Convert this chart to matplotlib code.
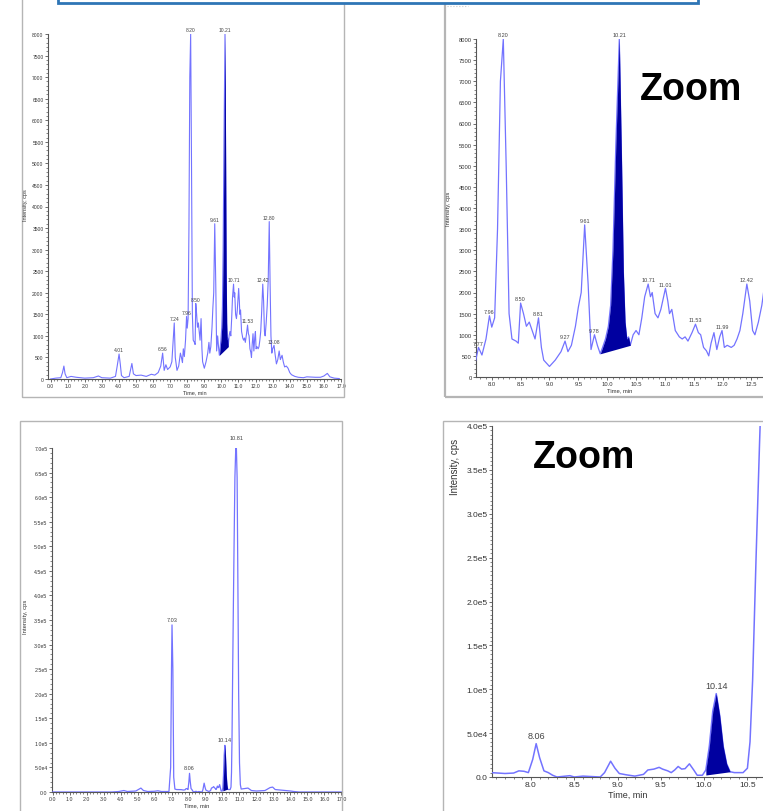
import numpy as np
import matplotlib.pyplot as plt
from matplotlib.patches import Rectangle
from matplotlib.ticker import MultipleLocator, FuncFormatter

W, H = 763, 812

# TIC of the sample (time in min, intensity in cps)
tic_time = [0.0, 0.3, 0.6, 0.7, 0.78, 0.85, 0.95, 1.2, 1.5, 2.0, 2.5, 2.8, 3.0, 3.5, 3.8, 3.9, 4.01,
            4.08, 4.15, 4.3, 4.6, 4.76, 4.85, 5.0, 5.3, 5.6, 5.9, 6.1, 6.3, 6.45, 6.56, 6.65, 6.75,
            6.85, 7.0, 7.1, 7.18, 7.24, 7.3, 7.4, 7.5, 7.6, 7.66, 7.72, 7.77, 7.83, 7.9, 7.96, 8.0,
            8.05, 8.1, 8.15, 8.2, 8.25, 8.3, 8.35, 8.42, 8.46, 8.5, 8.55, 8.6, 8.65, 8.7, 8.75, 8.81,
            8.86, 8.9, 9.0, 9.1, 9.2, 9.27, 9.32, 9.38, 9.45, 9.5, 9.55, 9.61, 9.67, 9.72, 9.78, 9.83,
            9.88, 9.92, 9.97, 10.02, 10.06, 10.1, 10.15, 10.21, 10.25, 10.28, 10.31, 10.34, 10.37,
            10.40, 10.45, 10.5, 10.55, 10.6, 10.65, 10.71, 10.75, 10.78, 10.83, 10.88, 10.93, 11.01,
            11.05, 11.08, 11.12, 11.18, 11.25, 11.3, 11.35, 11.4, 11.47, 11.53, 11.58, 11.62, 11.67,
            11.72, 11.76, 11.8, 11.85, 11.9, 11.95, 11.99, 12.03, 12.08, 12.15, 12.2, 12.25, 12.3,
            12.35, 12.42, 12.47, 12.52, 12.56, 12.62, 12.68, 12.74, 12.80, 12.85, 12.9, 12.95, 13.0,
            13.08, 13.15, 13.22, 13.3, 13.38, 13.45, 13.55, 13.62, 13.7, 13.8, 13.9, 14.0, 14.1,
            14.3, 14.5, 14.8, 15.0, 15.5, 15.8, 16.0, 16.2, 16.35, 16.6, 16.9]
tic_int = [0, 20, 30, 150, 300, 120, 30, 60, 40, 20, 30, 70, 30, 20, 60, 300, 580,
           350, 80, 30, 60, 360, 120, 80, 90, 60, 110, 90, 150, 300, 600, 200, 330,
           220, 280, 400, 900, 1300, 500, 200, 300, 600, 500, 380, 700, 520, 900, 1450, 1180,
           1400, 3500, 7000, 8000, 5000, 1500, 900, 850, 800, 1750, 1500, 1200, 1300, 1100, 900, 1400,
           700, 400, 250, 400, 600, 850, 600, 750, 1200, 1650, 2000, 3600, 2200, 650, 1000, 750,
           550, 700, 900, 1200, 1700, 3000, 5500, 8000, 5000, 2500, 1300, 900, 950,
           750, 1000, 1100, 1000, 1400, 1900, 2200, 1900, 2000, 1500, 1400, 1600, 2100,
           1800, 1500, 1600, 1100, 950, 900, 950, 850, 1050, 1250, 1050, 1000, 700,
           620, 500, 800, 1050, 650, 950, 1100, 700, 750, 700, 750, 900, 1100,
           1500, 2200, 1800, 1100, 1000, 1300, 1700, 2300, 3650, 2200, 1000, 600, 700,
           780, 550, 350, 450, 650, 450, 550, 400, 280, 300, 250, 150, 100,
           60, 40, 30, 50, 40, 40, 70, 130, 50, 20, 10]
tic_fill = (9.88, 10.40)          # integrated peak, start/end
tic_fill_base = (550, 750)

tic_labels_full = ["4.01", "6.56", "7.24", "7.96", "8.20", "8.50", "9.61", "10.21",
                   "10.71", "11.53", "12.42", "12.80", "13.08"]
tic_labels_zoom = ["7.77", "7.96", "8.20", "8.50", "8.81", "9.27", "9.61", "9.78", "10.21",
                   "10.71", "11.01", "11.53", "11.99", "12.42"]

# XIC of the target (time in min, intensity in cps)
xic_time = [0.0, 3.5, 3.9, 4.2, 4.4, 4.9, 5.1, 5.2, 5.35, 5.6, 6.0, 6.2, 6.4, 6.85, 6.95, 7.0,
            7.03, 7.08, 7.13, 7.2, 7.3, 7.57, 7.7, 7.8, 7.86, 7.92, 7.97, 8.02, 8.06, 8.1, 8.15,
            8.2, 8.25, 8.3, 8.45, 8.5, 8.6, 8.8, 8.85, 8.92, 8.97, 9.02, 9.1, 9.2, 9.3, 9.35,
            9.42, 9.48, 9.52, 9.58, 9.62, 9.66, 9.7, 9.74, 9.78, 9.83, 9.88, 9.92, 9.98, 10.02,
            10.06, 10.1, 10.14, 10.18, 10.22, 10.26, 10.3, 10.35, 10.45, 10.5, 10.53, 10.56,
            10.6, 10.64, 10.68, 10.73, 10.78, 10.81, 10.86, 10.9, 10.95, 11.0, 11.05, 11.1, 11.5,
            11.7, 12.0, 12.5, 12.8, 12.95, 13.1, 13.4, 13.7, 14.0, 14.2, 14.5, 17.0]
xic_int = [0, 0, 1000, 3000, 1000, 2000, 6000, 8000, 3000, 1000, 1500, 2500, 1000, 1000, 50000,
           250000, 340000, 250000, 30000, 6000, 5000, 4800, 4000, 4500, 7000, 6500, 5000, 20000,
           38000, 22000, 7000, 5000, 2000, 0, 1500, 0, 1000, 0, 5000, 18000, 10000, 4000, 2500,
           1000, 3000, 8000, 9000, 11000, 9000, 7000, 5000, 8000, 12000, 9000, 9500, 15000, 8000,
           2000, 2000, 8000, 35000, 75000, 95000, 70000, 35000, 15000, 6000, 5000, 5000, 10000,
           40000, 110000, 250000, 380000, 500000, 640000, 700000, 710000, 640000, 450000, 200000,
           60000, 15000, 6000, 8000, 3000, 2000, 3000, 9000, 10000, 5000, 4000, 3000, 2000, 1000,
           0, 0]
xic_fill = (10.0, 10.3)
xic_fill_base = (2000, 6000)

xic_labels_full = ["7.03", "8.06", "10.14", "10.81"]
xic_labels_zoom = ["8.06", "10.14"]

LINE = '#7373ff'
FILL = '#0000a0'
GREY = '#555555'

plt.rcParams['font.family'] = ['Liberation Sans', 'DejaVu Sans']
fig = plt.figure(figsize=(W / 100, H / 100), dpi=100)


def px_axes(left, right, top, bottom):
    return fig.add_axes([left / W, 1 - bottom / H, (right - left) / W, (bottom - top) / H])


def frame(left, right, top, bottom, lw=1):
    fig.add_artist(Rectangle((left / W, 1 - bottom / H), (right - left) / W, (bottom - top) / H,
                             transform=fig.transFigure, fill=False, edgecolor='#b5b5b5', lw=lw))


def sci(v, pos):
    if v <= 0:
        return "0.0"
    e = int(np.floor(np.log10(v)))
    return f"{v / 10 ** e:.1f}e{e}"


def chrom(ax, t, y, fill, base, labels, xlim, ylim, xmaj, xmin, ymaj, ymin, fs, lab_fs,
          yfmt, lw, lab_dy):
    t = np.array(t)
    y = np.array(y)
    ax.plot(t, y, color=LINE, lw=lw, zorder=3)
    m = (t >= fill[0]) & (t <= fill[1])
    bl = np.interp(t[m], fill, base)
    ax.fill_between(t[m], bl, y[m], color=FILL, lw=0, zorder=4)
    for lab in labels:
        x0 = float(lab)
        i = np.argmin(np.abs(t - x0))
        ax.text(x0, y[i] + lab_dy, lab, ha='center', va='bottom', fontsize=lab_fs,
                color='#444444', zorder=5)
    ax.set_xlim(*xlim)
    ax.set_ylim(*ylim)
    for s in ['top', 'right']:
        ax.spines[s].set_visible(False)
    for s in ['left', 'bottom']:
        ax.spines[s].set_color(GREY)
        ax.spines[s].set_linewidth(0.8)
    ax.xaxis.set_major_locator(MultipleLocator(xmaj))
    ax.xaxis.set_minor_locator(MultipleLocator(xmin))
    ax.yaxis.set_major_locator(MultipleLocator(ymaj))
    ax.yaxis.set_minor_locator(MultipleLocator(ymin))
    ax.xaxis.set_major_formatter(FuncFormatter(lambda v, p: f"{v:.1f}"))
    ax.yaxis.set_major_formatter(FuncFormatter(yfmt))
    ax.tick_params(which='major', direction='out', length=2.2, width=0.6, color=GREY,
                   labelsize=fs, labelcolor='#333333', pad=1)
    ax.tick_params(which='minor', direction='out', length=1.2, width=0.5, color=GREY)
    ax.patch.set_alpha(0)


# panel frames (tops of the upper ones are cut off)
frame(22, 344, -5, 398)
frame(445, 770, -5, 398, lw=1.6)
frame(20, 342, 422, 820)
frame(443, 770, 422, 820)
fig.add_artist(plt.Line2D([447 / W, 468 / W], [1 - 7 / H, 1 - 7 / H], transform=fig.transFigure,
                          color='#c8c8c8', lw=0.8, ls=':'))

# blue box at the top
fig.add_artist(Rectangle((58 / W, 1 - 4 / H), 640 / W, 20 / H, transform=fig.transFigure,
                         facecolor='white', edgecolor='#2e75b6', lw=2))

# top left: full TIC
ax1 = px_axes(48, 341, 35, 380)
chrom(ax1, tic_time, tic_int, tic_fill, tic_fill_base, tic_labels_full, (-0.15, 17.0), (0, 8000),
      1.0, 0.2, 500, 100, 3.6, 3.6, lambda v, p: f"{int(v)}", 0.8, 40)
ax1.set_xlabel("Time, min", fontsize=4, labelpad=0.5, color='#333333')
fig.text(25 / W, 1 - 205 / H, "Intensity, cps", rotation=90, fontsize=4, ha='center',
         va='center', color='#333333')

# top right: zoomed TIC
ax2 = px_axes(476, 763, 40, 378)
chrom(ax2, tic_time, tic_int, tic_fill, tic_fill_base, tic_labels_zoom, (7.727, 12.70), (0, 8000),
      0.5, 0.1, 500, 100, 4.2, 4.0, lambda v, p: f"{int(v)}", 0.9, 40)
ax2.set_xlabel("Time, min", fontsize=4.2, labelpad=0.5, color='#333333')
fig.text(449 / W, 1 - 209 / H, "Intensity, cps", rotation=90, fontsize=4.2, ha='center',
         va='center', color='#333333')
fig.text(640 / W, 1 - 100 / H, "Zoom", fontsize=27, fontweight='bold',
         family=['Liberation Sans', 'DejaVu Sans'], ha='left', va='baseline')

# bottom left: full XIC
ax3 = px_axes(52, 342, 449, 793)
chrom(ax3, xic_time, xic_int, xic_fill, xic_fill_base, xic_labels_full, (-0.03, 17.03),
      (0, 700000), 1.0, 0.2, 50000, 10000, 3.8, 4.0, sci, 0.9, 6000)
ax3.set_xlabel("Time, min", fontsize=4.2, labelpad=0.5, color='#333333')
fig.text(25 / W, 1 - 617 / H, "Intensity, cps", rotation=90, fontsize=4.2, ha='center',
         va='center', color='#333333')

# bottom right: zoomed XIC
ax4 = px_axes(492, 763, 427, 778)
chrom(ax4, xic_time, xic_int, xic_fill, xic_fill_base, xic_labels_zoom, (7.55, 10.68),
      (0, 400000), 0.5, 0.1, 50000, 5000, 6, 6.5, sci, 1.1, 4000)
ax4.set_xlabel("Time, min", fontsize=6.5, labelpad=1, color='#333333')
fig.text(455 / W, 1 - 467 / H, "Intensity, cps", rotation=90, fontsize=7, ha='center',
         va='center', color='#333333')
fig.text(533 / W, 1 - 468 / H, "Zoom", fontsize=27, fontweight='bold',
         family=['Liberation Sans', 'DejaVu Sans'], ha='left', va='baseline')

fig.savefig("out.png", dpi=100)
